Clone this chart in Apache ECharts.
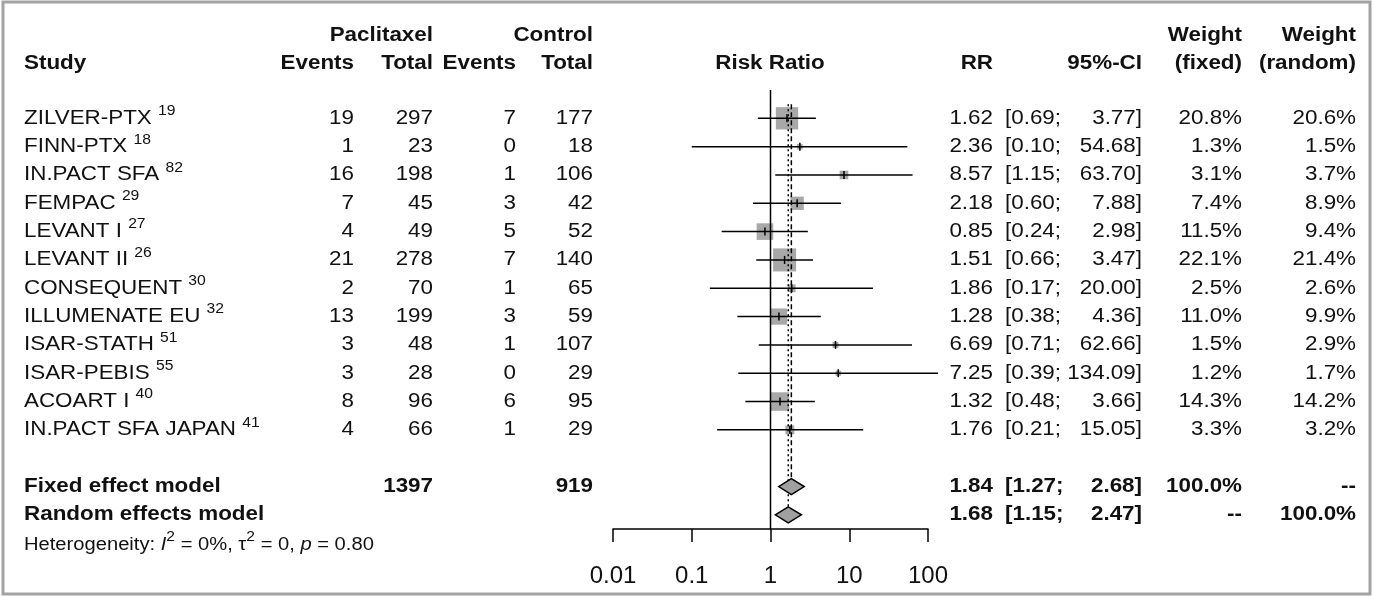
<!DOCTYPE html>
<html><head><meta charset="utf-8">
<script src="https://cdn.jsdelivr.net/npm/echarts@6/dist/echarts.min.js"></script>
<style>html,body{margin:0;padding:0;background:#fff}#chart{width:1374px;height:597px}</style>
</head><body><div id="chart"></div>
<script>
var studies = ["ZILVER-PTX", "FINN-PTX", "IN.PACT SFA", "FEMPAC", "LEVANT I", "LEVANT II",
    "CONSEQUENT", "ILLUMENATE EU", "ISAR-STATH", "ISAR-PEBIS", "ACOART I", "IN.PACT SFA JAPAN"]
var refs = ["19", "18", "82", "29", "27", "26", "30", "32", "51", "55", "40", "41"]
var paxEvents = [19, 1, 16, 7, 4, 21, 2, 13, 3, 3, 8, 4]
var paxTotal = [297, 23, 198, 45, 49, 278, 70, 199, 48, 28, 96, 66]
var ctlEvents = [7, 0, 1, 3, 5, 7, 1, 3, 1, 0, 6, 1]
var ctlTotal = [177, 18, 106, 42, 52, 140, 65, 59, 107, 29, 95, 29]
var rr = [1.62, 2.36, 8.57, 2.18, 0.85, 1.51, 1.86, 1.28, 6.69, 7.25, 1.32, 1.76]
var ciLow = [0.69, 0.10, 1.15, 0.60, 0.24, 0.66, 0.17, 0.38, 0.71, 0.39, 0.48, 0.21]
var ciHigh = [3.77, 54.68, 63.70, 7.88, 2.98, 3.47, 20.00, 4.36, 62.66, 134.09, 3.66, 15.05]
var wFixed = [20.8, 1.3, 3.1, 7.4, 11.5, 22.1, 2.5, 11.0, 1.5, 1.2, 14.3, 3.3]
var wRandom = [20.6, 1.5, 3.7, 8.9, 9.4, 21.4, 2.6, 9.9, 2.9, 1.7, 14.2, 3.2]
var models = ["Fixed effect model", "Random effects model"]
var modelRR = [1.84, 1.68]
var modelLow = [1.27, 1.15]
var modelHigh = [2.68, 2.47]
var modelWFixed = ["100.0%", "--"]
var modelWRandom = ["--", "100.0%"]
var sumTotals = [1397, 919]

// row layout (y axis units)
var modelRow = [13, 14]
var headRows = [-2.94, -1.92]
var hetRow = 15.05

// column x positions (pixels)
var col = {study: 24, pe: 354, pt: 433, ce: 516, ct: 593, rr: 993, lo: 1005, hi: 1142, wf: 1242, wr: 1356}

var f2 = function (v) { return v.toFixed(2) }
var texts = []
function addT(x, row, s, align, bold, size) { texts.push([x, row, s, align, bold ? 1 : 0, size || 20]) }

addT(col.pt, headRows[0], "Paclitaxel", "right", 1)
addT(col.ct, headRows[0], "Control", "right", 1)
addT(col.wf, headRows[0], "Weight", "right", 1)
addT(col.wr, headRows[0], "Weight", "right", 1)
addT(col.study, headRows[1], "Study", "left", 1)
addT(col.pe, headRows[1], "Events", "right", 1)
addT(col.pt, headRows[1], "Total", "right", 1)
addT(col.ce, headRows[1], "Events", "right", 1)
addT(col.ct, headRows[1], "Total", "right", 1)
addT(770, headRows[1], "Risk Ratio", "center", 1)
addT(col.rr, headRows[1], "RR", "right", 1)
addT(col.hi, headRows[1], "95%-CI", "right", 1)
addT(col.wf, headRows[1], "(fixed)", "right", 1)
addT(col.wr, headRows[1], "(random)", "right", 1)
studies.forEach(function (s, i) {
    addT(col.study, i, s + " {sup|" + refs[i] + "}", "left", 0)
    addT(col.pe, i, String(paxEvents[i]), "right", 0)
    addT(col.pt, i, String(paxTotal[i]), "right", 0)
    addT(col.ce, i, String(ctlEvents[i]), "right", 0)
    addT(col.ct, i, String(ctlTotal[i]), "right", 0)
    addT(col.rr, i, f2(rr[i]), "right", 0)
    addT(col.lo, i, "[" + f2(ciLow[i]) + ";", "left", 0)
    addT(col.hi, i, f2(ciHigh[i]) + "]", "right", 0)
    addT(col.wf, i, wFixed[i].toFixed(1) + "%", "right", 0)
    addT(col.wr, i, wRandom[i].toFixed(1) + "%", "right", 0)
})
models.forEach(function (m, k) {
    var r = modelRow[k]
    addT(col.study, r, m, "left", 1)
    if (k === 0) {
        addT(col.pt, r, String(sumTotals[0]), "right", 1)
        addT(col.ct, r, String(sumTotals[1]), "right", 1)
    }
    addT(col.rr, r, f2(modelRR[k]), "right", 1)
    addT(col.lo, r, "[" + f2(modelLow[k]) + ";", "left", 1)
    addT(col.hi, r, f2(modelHigh[k]) + "]", "right", 1)
    addT(col.wf, r, modelWFixed[k], "right", 1)
    addT(col.wr, r, modelWRandom[k], "right", 1)
})
addT(col.study, hetRow, "Heterogeneity: {it|I}{sup|2} = 0%, \u03c4{sup|2} = 0, {it|p} = 0.80", "left", 0, 18)

var studyData = studies.map(function (s, i) { return [rr[i], i, ciLow[i], ciHigh[i], wFixed[i]] })
var diamondData = models.map(function (m, k) { return [modelRR[k], modelRow[k], modelLow[k], modelHigh[k]] })

var chart = echarts.init(document.getElementById("chart"))
chart.setOption({
    animation: false,
    textStyle: {fontFamily: "Liberation Sans, Arial, sans-serif"},
    graphic: [{type: "rect", shape: {x: 3, y: 2, width: 1367, height: 592},
        style: {fill: "none", stroke: "#a3a3a3", lineWidth: 3}, z: -1}],
    grid: {left: 613, width: 315, top: 90, height: 439},
    xAxis: {
        type: "log", logBase: 10, min: 0.01, max: 100,
        axisLine: {show: true, onZero: false, lineStyle: {color: "#000", width: 1.5}},
        axisTick: {show: true, length: 13, lineStyle: {color: "#000", width: 1.5}},
        axisLabel: {fontSize: 24, color: "#111", margin: 35,
            formatter: function (v) { return String(+v.toPrecision(2)) }},
        splitLine: {show: false}, minorTick: {show: false}
    },
    yAxis: {type: "value", inverse: true, min: -1, max: 14.5, show: false},
    series: [
        {type: "line", data: [[1, -1], [1, 14.5]], symbol: "none", silent: true,
            lineStyle: {color: "#000", width: 1.5}},
        {type: "line", data: [[modelRR[0], -0.5], [modelRR[0], modelRow[0]]], symbol: "none",
            lineStyle: {color: "#000", width: 1.5, type: [5, 3]}},
        {type: "line", data: [[modelRR[1], -0.5], [modelRR[1], modelRow[1]]], symbol: "none",
            lineStyle: {color: "#000", width: 1.5, type: [2, 3]}},
        {type: "custom", data: studyData, clip: false, z: 3,
            renderItem: function (params, api) {
                var c = api.coord([api.value(0), api.value(1)])
                var lo = api.coord([api.value(2), api.value(1)])
                var hi = api.coord([api.value(3), api.value(1)])
                var s = 4.9 * Math.sqrt(api.value(4))
                return {type: "group", children: [
                    {type: "rect", shape: {x: c[0] - s / 2, y: c[1] - s / 2, width: s, height: s},
                        style: {fill: "#a8a8a8"}},
                    {type: "line", shape: {x1: lo[0], y1: c[1], x2: hi[0], y2: c[1]},
                        style: {stroke: "#000", lineWidth: 1.5}},
                    {type: "line", shape: {x1: c[0], y1: c[1] - 4, x2: c[0], y2: c[1] + 4},
                        style: {stroke: "#000", lineWidth: 1.5}}
                ]}
            }},
        {type: "custom", data: diamondData, z: 4,
            renderItem: function (params, api) {
                var c = api.coord([api.value(0), api.value(1)])
                var lo = api.coord([api.value(2), api.value(1)])
                var hi = api.coord([api.value(3), api.value(1)])
                return {type: "polygon", shape: {points: [[lo[0], c[1]], [c[0], c[1] - 8], [hi[0], c[1]], [c[0], c[1] + 8]]},
                    style: {fill: "#a0a0a0", stroke: "#000", lineWidth: 1.5}}
            }},
        {type: "custom", data: texts, clip: false, z: 5,
            renderItem: function (params, api) {
                var t = texts[params.dataIndex]
                var y = api.coord([1, t[1]])[1]
                var w = t[4] ? "bold" : "normal"
                return {type: "text", x: t[0], y: y, scaleX: 1.12, style: {
                    text: t[2], align: t[3], verticalAlign: "middle",
                    font: w + " " + t[5] + "px Liberation Sans, Arial, sans-serif", fill: "#111",
                    rich: {
                        sup: {fontSize: 14, verticalAlign: "top", lineHeight: 28, padding: [0, 0, 12, 0], fontWeight: w},
                        it: {fontStyle: "italic", fontSize: t[5]}
                    }
                }}
            }}
    ]
})
</script></body></html>
